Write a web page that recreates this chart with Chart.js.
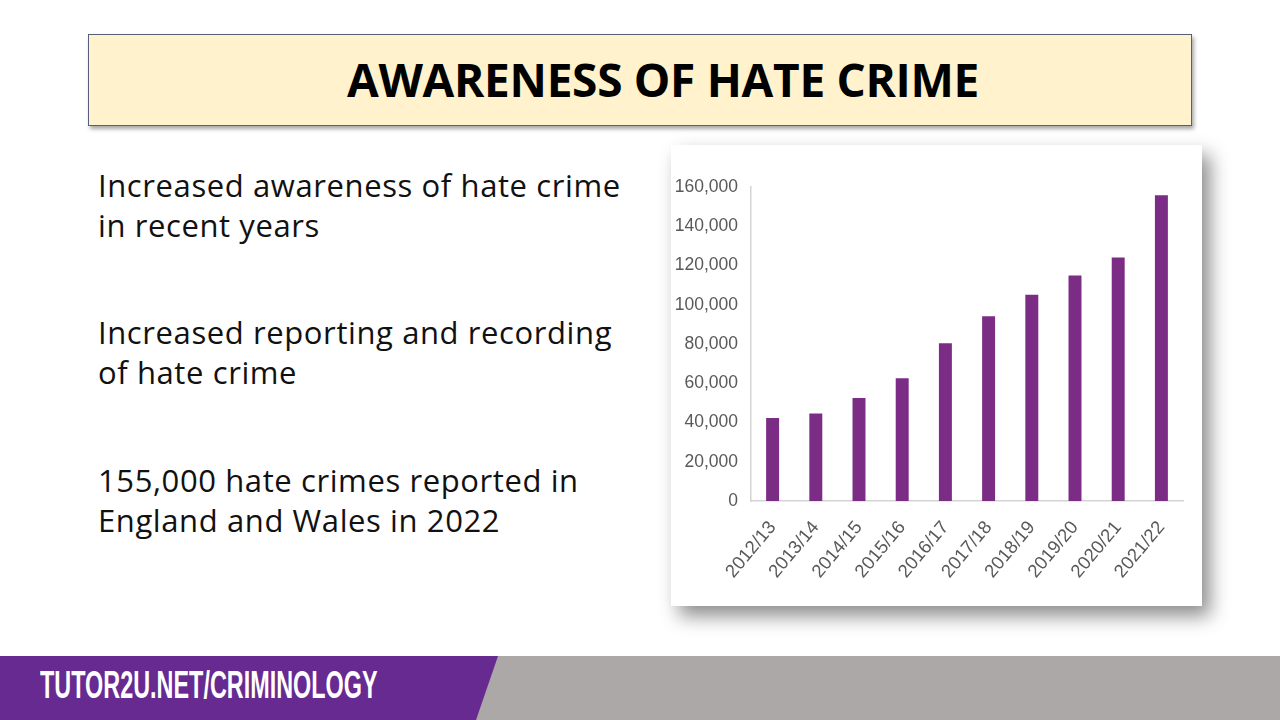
<!DOCTYPE html>
<html>
<head>
<meta charset="utf-8">
<script src="https://cdn.jsdelivr.net/npm/chart.js@4"></script>
<style>
  html, body { margin: 0; padding: 0; }
  body { width: 1280px; height: 720px; position: relative; overflow: hidden; background: #fff; font-family: "Open Sans", sans-serif; }
  #titleBox {
    position: absolute; left: 88px; top: 34px; width: 1102px; height: 90px;
    background: #fff2cc; border: 1.5px solid #56607a;
    box-shadow: 2px 3px 4px rgba(0,0,0,0.35);
  }
  #title {
    position: absolute; left: 46px; right: 0; top: 15px; text-align: center;
    font-family: "Open Sans", sans-serif; font-weight: 700; font-size: 46px; line-height: 58px; color: #000;
    letter-spacing: -0.3px;
  }
  .para { position: absolute; left: 98px; font-size: 31px; line-height: 40px; color: #111; letter-spacing: 0.6px; }
  #card {
    position: absolute; left: 671px; top: 145px; width: 531px; height: 461px;
    background: #fff; box-shadow: 8px 10px 18px rgba(0,0,0,0.45);
  }
  #footL {
    position: absolute; left: 0; top: 656px; width: 500px; height: 64px; background: #662a91;
    clip-path: polygon(0 0, 498px 0, 476px 64px, 0 64px);
  }
  #footR { position: absolute; left: 0; top: 656px; width: 1280px; height: 64px; background: #aba8a7; }
  #footText {
    position: absolute; left: 40px; top: 665px; color: #fff;
    font-family: "Liberation Sans", sans-serif; font-weight: 700; font-size: 39px; line-height: 40px;
    transform-origin: 0 0; transform: scaleX(0.6);
  }
</style>
</head>
<body>
<div id="titleBox"><div id="title">AWARENESS OF HATE CRIME</div></div>

<div class="para" style="top:165px">Increased awareness of hate crime<br>in recent years</div>
<div class="para" style="top:312px">Increased reporting and recording<br>of hate crime</div>
<div class="para" style="top:460px">155,000 hate crimes reported in<br>England and Wales in 2022</div>

<div id="card"><canvas id="hateChart" width="531" height="461"></canvas></div>

<div id="footR"></div>
<div id="footL"></div>
<div id="footText">TUTOR2U.NET/CRIMINOLOGY</div>

<script>
var years  = ['2012/13', '2013/14', '2014/15', '2015/16', '2016/17', '2017/18', '2018/19', '2019/20', '2020/21', '2021/22'];
var crimes = [42255, 44577, 52465, 62518, 80393, 94121, 105090, 114958, 124104, 155841];
var yTicks = [0, 20000, 40000, 60000, 80000, 100000, 120000, 140000, 160000];

var ctx = document.getElementById('hateChart');

new Chart(ctx, {
    type: 'bar',
    data: {
        labels: years,
        datasets: [{
            label: 'Hate crimes',
            data: crimes,
            backgroundColor: '#7b2c84',
            categoryPercentage: 1,
            barPercentage: 0.3
        }]
    },
    options: {
        responsive: false,
        animation: false,
        layout: { padding: { top: 42, right: 19, left: 0, bottom: 0 } },
        plugins: {
            legend: { display: false },
            tooltip: { enabled: false }
        },
        scales: {
            x: {
                grid: { display: false },
                border: { color: '#d4d4d4', width: 1.5 },
                ticks: {
                    color: '#595959', minRotation: 50, maxRotation: 50, padding: 8,
                    font: { family: 'Liberation Sans', size: 18.5 }
                },
                afterFit: function (scale) { scale.height = 105; }
            },
            y: {
                min: 0, max: 160000,
                grid: { display: false },
                border: { color: '#d4d4d4', width: 1.5 },
                afterBuildTicks: function (scale) { scale.ticks = yTicks.map(function (v) { return { value: v }; }); },
                ticks: {
                    color: '#595959', padding: 5,
                    font: { family: 'Liberation Sans', size: 17.5 },
                    callback: function (v) { return v.toLocaleString('en-US'); }
                },
                afterFit: function (scale) { scale.width = 80; }
            }
        }
    }
});
</script>
</body>
</html>
